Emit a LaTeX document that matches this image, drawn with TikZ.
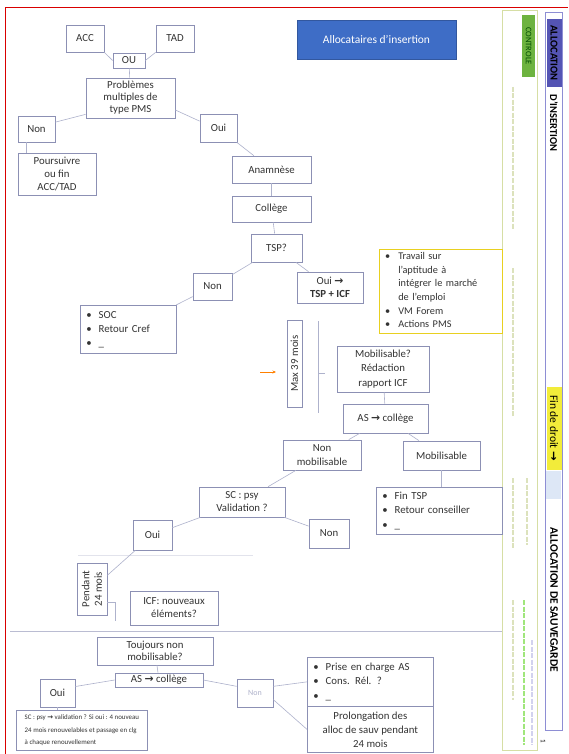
\documentclass[tikz,border=0pt]{standalone}
\usepackage{fontspec}
\setmainfont{Carlito}
\newfontfamily\symf{DejaVu Sans}
\usetikzlibrary{arrows.meta}
\definecolor{boxc}{HTML}{8C90B4}
\definecolor{txt}{HTML}{333333}
\definecolor{linec}{HTML}{AEB2CC}
\definecolor{bluebox}{HTML}{3E6DC6}
\definecolor{yelbox}{HTML}{E8D020}
\definecolor{greenlab}{HTML}{6DB33F}
\definecolor{olivec}{HTML}{D6DEA4}
\definecolor{faintc}{HTML}{DCE2BC}
\definecolor{lavc}{HTML}{8E8ED4}
\definecolor{navyfill}{HTML}{5454B4}
\definecolor{hiyel}{HTML}{F2EC3A}
\definecolor{lightblue}{HTML}{DDE7F6}
\newcommand{\arr}{{\symf\bfseries →}}
\begin{document}
\begin{tikzpicture}[x=1pt,y=-1pt,
  bx/.style={draw=boxc, line width=0.7pt, text=txt, align=center, inner sep=1pt,
    font=\fontsize{10.8}{13}\selectfont},
  lst/.style={bx, anchor=north west, align=left, inner xsep=6pt, inner ysep=1pt},
  conn/.style={draw=linec, line width=0.6pt},
  vlab/.style={rotate=-90, inner sep=0pt, text=black, font=\bfseries\fontsize{11}{11}\selectfont}]
\useasboundingbox (0,0) rectangle (568,754);
\fill[white] (0,0) rectangle (568,754);

% red frame
\draw[red!85!black, line width=1pt] (5,754) -- (5,8) -- (568,8);

% right columns
\draw[olivec, line width=0.8pt] (502,10) rectangle (537,750);
\draw[lavc, line width=0.8pt] (545,12) rectangle (562,730);
\node[fill=greenlab, rotate=-90, minimum width=62pt, minimum height=13pt, inner sep=0pt,
  text=green!30!black, font=\fontsize{8.5}{9}\selectfont] (ctrl) at (528.5,46) {CONTROLE};
\node[fill=navyfill, rotate=-90, minimum width=68pt, minimum height=15pt, inner sep=0pt,
  text=black, font=\bfseries\fontsize{10.5}{11}\selectfont] (alloc1) at (554,53) {ALLOCATION};
\node[vlab, font=\bfseries\fontsize{10.5}{11}\selectfont] (dins) at (554,123) {D'INSERTION};
\node[vlab, fill=hiyel, minimum width=83pt, minimum height=15pt, font=\fontsize{11.5}{12}\selectfont] (fdd) at (554,428) {Fin de droit {\symf\bfseries →}};
\fill[lightblue] (546,471) rectangle (561,499);
\node[vlab, font=\bfseries\fontsize{11.5}{12}\selectfont] (alsauv) at (554,600) {ALLOCATION DE SAUVEGARDE};
\node[rotate=-90, inner sep=0pt, font=\fontsize{7}{7}\selectfont, text=black] (pg) at (543,741) {1};

% faint texts in the control column
\begin{scope}[faintc, line width=1.6pt, dash pattern=on 5pt off 1.5pt]
\draw (513,87) -- (513,230);
\draw (513,268) -- (513,417);
\draw (513,478) -- (513,548);
\draw (527,478) -- (527,545);
\draw (513,600) -- (513,700);
\draw[green!25!olivec] (524,600) -- (524,745);
\draw[lavc!40] (532,640) -- (532,745);
\end{scope}

% title
\node[fill=bluebox, draw=bluebox!80!black, minimum width=159pt, minimum height=39pt, inner sep=0pt,
  text=white, font=\fontsize{11.5}{13}\selectfont] (titre) at (376.5,39.5) {Allocataires d'insertion};

% top part
\node[bx, minimum width=38pt, minimum height=27pt] (acc) at (85,38.5) {ACC};
\node[bx, minimum width=38pt, minimum height=27pt] (tad) at (175,38.5) {TAD};
\node[bx, minimum width=32pt, minimum height=15pt, inner sep=0pt] (ou) at (129,60.5) {OU};
\node[bx, minimum width=89pt, minimum height=40pt, font=\fontsize{10.8}{12}\selectfont] (pms) at (130.5,98) {Problèmes\\multiples de\\type PMS};
\node[bx, minimum width=37pt, minimum height=26pt] (non1) at (36.5,129) {Non};
\node[bx, minimum width=37pt, minimum height=28pt] (oui1) at (218.5,128) {Oui};
\node[bx, minimum width=78pt, minimum height=42pt] (pours) at (57,174) {Poursuivre\\ou fin\\ACC/TAD};
\node[bx, minimum width=79pt, minimum height=27pt] (anam) at (271.5,169.5) {Anamnèse};
\node[bx, minimum width=79pt, minimum height=26pt] (coll) at (271.5,209) {Collège};
\node[bx, minimum width=51pt, minimum height=28pt] (tsp) at (276.5,248) {TSP?};
\node[bx, minimum width=39pt, minimum height=27pt] (non2) at (212.5,286.5) {Non};
\node[lst, minimum width=96pt, minimum height=48pt, text width=84pt, font=\fontsize{10.8}{14}\selectfont] (soc) at (80,305)
  {\begin{tabular}{@{}l@{\hspace{7pt}}l@{}}\textbullet & SOC\\ \textbullet & Retour Cref\\ \textbullet & \_\end{tabular}};
\node[bx, minimum width=66pt, minimum height=31pt] (ouitsp) at (330,287.5) {Oui \arr\\\textbf{TSP + ICF}};
\node[anchor=north west, align=left, inner xsep=6pt, inner ysep=1pt, text=txt,
  minimum width=123pt, minimum height=83pt, text width=111pt, font=\fontsize{10.3}{13.6}\selectfont] (trav) at (379,249)
  {\begin{tabular}{@{}l@{\hspace{8pt}}l@{}}\textbullet & Travail sur\\ & l'aptitude à\\ & intégrer le marché\\ & de l'emploi\\ \textbullet & VM Forem\\ \textbullet & Actions PMS\end{tabular}};
\draw[draw=yelbox, line width=0.9pt] (trav.north west) rectangle (trav.south east);

% middle part
\node[bx, rotate=90, minimum width=87pt, minimum height=15pt, inner sep=0pt] (max) at (294.5,363.5) {Max 39 mois};
\coordinate (bt) at (318,321); \coordinate (bb) at (318,413);
\coordinate (bm) at (318,373); \coordinate (bm2) at (325,373);
\draw[conn] (bt) -- (bb); \draw[conn] (bm) -- (bm2);
\coordinate (o1) at (260,372); \coordinate (o2) at (276,372);
\draw[orange, line width=0.8pt, -{Stealth[length=3.5pt,width=3pt]}] (o1) -- (o2);
\node[bx, minimum width=92pt, minimum height=46pt, font=\fontsize{10.8}{14.5}\selectfont] (mob) at (383,369) {Mobilisable?\\Rédaction\\rapport ICF};
\node[bx, minimum width=85pt, minimum height=29pt] (as1) at (385.5,418.5) {AS \arr\ collège};
\node[bx, minimum width=78pt, minimum height=30pt, font=\fontsize{10.8}{13.5}\selectfont] (nonmob) at (322,455) {Non\\mobilisable};
\node[bx, minimum width=77pt, minimum height=29pt] (mobil) at (441.5,455.5) {Mobilisable};
\node[lst, minimum width=126pt, minimum height=47pt, text width=114pt, font=\fontsize{10.8}{14.5}\selectfont] (fin) at (376,487)
  {\begin{tabular}{@{}l@{\hspace{7pt}}l@{}}\textbullet & Fin TSP\\ \textbullet & Retour conseiller\\ \textbullet & \_\end{tabular}};
\node[bx, minimum width=40pt, minimum height=29pt] (non3) at (329,533.5) {Non};
\node[bx, minimum width=86pt, minimum height=30pt] (sc) at (242,502) {SC : psy\\Validation ?};
\node[bx, minimum width=39pt, minimum height=30pt] (oui2) at (152.5,535) {Oui};
\node[bx, rotate=90, minimum width=52pt, minimum height=30pt, inner sep=0pt, font=\fontsize{10.8}{12.5}\selectfont] (pend) at (92,589) {Pendant\\24 mois};
\coordinate (pk1) at (107,602); \coordinate (pk2) at (115,621);
\draw[conn] (pk1) -| (pk2);
\node[bx, minimum width=88pt, minimum height=34pt] (icf) at (174,608) {ICF: nouveaux\\éléments?};

% separators
\coordinate (s1) at (10,631); \coordinate (s2) at (502,631);
\draw[draw=boxc!60, line width=0.7pt] (s1) -- (s2);
\coordinate (f1) at (78,555); \coordinate (f2) at (253,555);
\draw[draw=boxc!25, line width=0.7pt] (f1) -- (f2);

% bottom part
\node[bx, minimum width=116pt, minimum height=28pt, font=\fontsize{10.8}{12.5}\selectfont] (touj) at (155,651) {Toujours non\\mobilisable?};
\node[bx, minimum width=88pt, minimum height=14pt, inner sep=0pt] (as2) at (159,680) {AS \arr\ collège};
\node[bx, minimum width=35pt, minimum height=28pt] (oui3) at (57.5,693) {Oui};
\node[bx, minimum width=36pt, minimum height=28pt, text=boxc!70, font=\fontsize{8}{9}\selectfont] (non4) at (255,693) {Non};
\node[bx, anchor=north west, align=left, minimum width=131pt, minimum height=40pt, inner xsep=2pt, inner ysep=0pt,
  font=\fontsize{6.9}{12.5}\selectfont] (scb) at (16,710)
  {SC : psy {\symf\bfseries →} validation ? Si oui : 4 nouveau\\24 mois renouvelables et passage en clg\\à chaque renouvellement};
\node[lst, minimum width=126pt, minimum height=49pt, text width=114pt, font=\fontsize{10.8}{14.5}\selectfont] (prise) at (307,657)
  {\begin{tabular}{@{}l@{\hspace{7pt}}l@{}}\textbullet & Prise en charge AS\\ \textbullet & Cons. Rél. ?\\ \textbullet & \_\end{tabular}};
\node[bx, anchor=north west, minimum width=126pt, minimum height=46pt, font=\fontsize{10.8}{14}\selectfont] (prol) at (307,706)
  {Prolongation des\\alloc de sauv pendant\\24 mois};

% connectors
\draw[conn] (acc.south east) -- (ou.west);
\draw[conn] (tad.south west) -- (ou.east);
\draw[conn] (ou) -- (pms);
\draw[conn] (pms.200) -- (non1.20);
\draw[conn] (pms.-15) -- (oui1.160);
\draw[conn] (non1.south west) ++(9,0) coordinate (n1a) (n1a) -- (n1a |- pours.north);
\draw[conn] (oui1) -- (anam);
\draw[conn] (anam) -- (coll);
\draw[conn] (coll) -- (tsp);
\draw[conn] (tsp) -- (non2);
\draw[conn] (non2) -- (soc);
\draw[conn] (tsp) -- (ouitsp);
\draw[conn] (mob) -- (as1);
\draw[conn] (as1) -- (nonmob);
\draw[conn] (as1) -- (mobil);
\draw[conn] (mobil) -- (mobil |- fin.north);
\draw[conn] (nonmob) -- (sc);
\draw[conn] (sc) -- (oui2);
\draw[conn] (sc) -- (non3);
\draw[conn] (oui2) -- (pend);
\draw[conn] (touj) -- (as2);
\draw[conn] (as2.west) -- (oui3.20);
\draw[conn] (as2.east) -- (non4.160);
\draw[conn] (non4.20) -- (prise.west);
\draw[conn] (non4.-20) -- (prol.west);
\draw[conn] (oui3) -- (oui3 |- scb.north);
\end{tikzpicture}
\end{document}
